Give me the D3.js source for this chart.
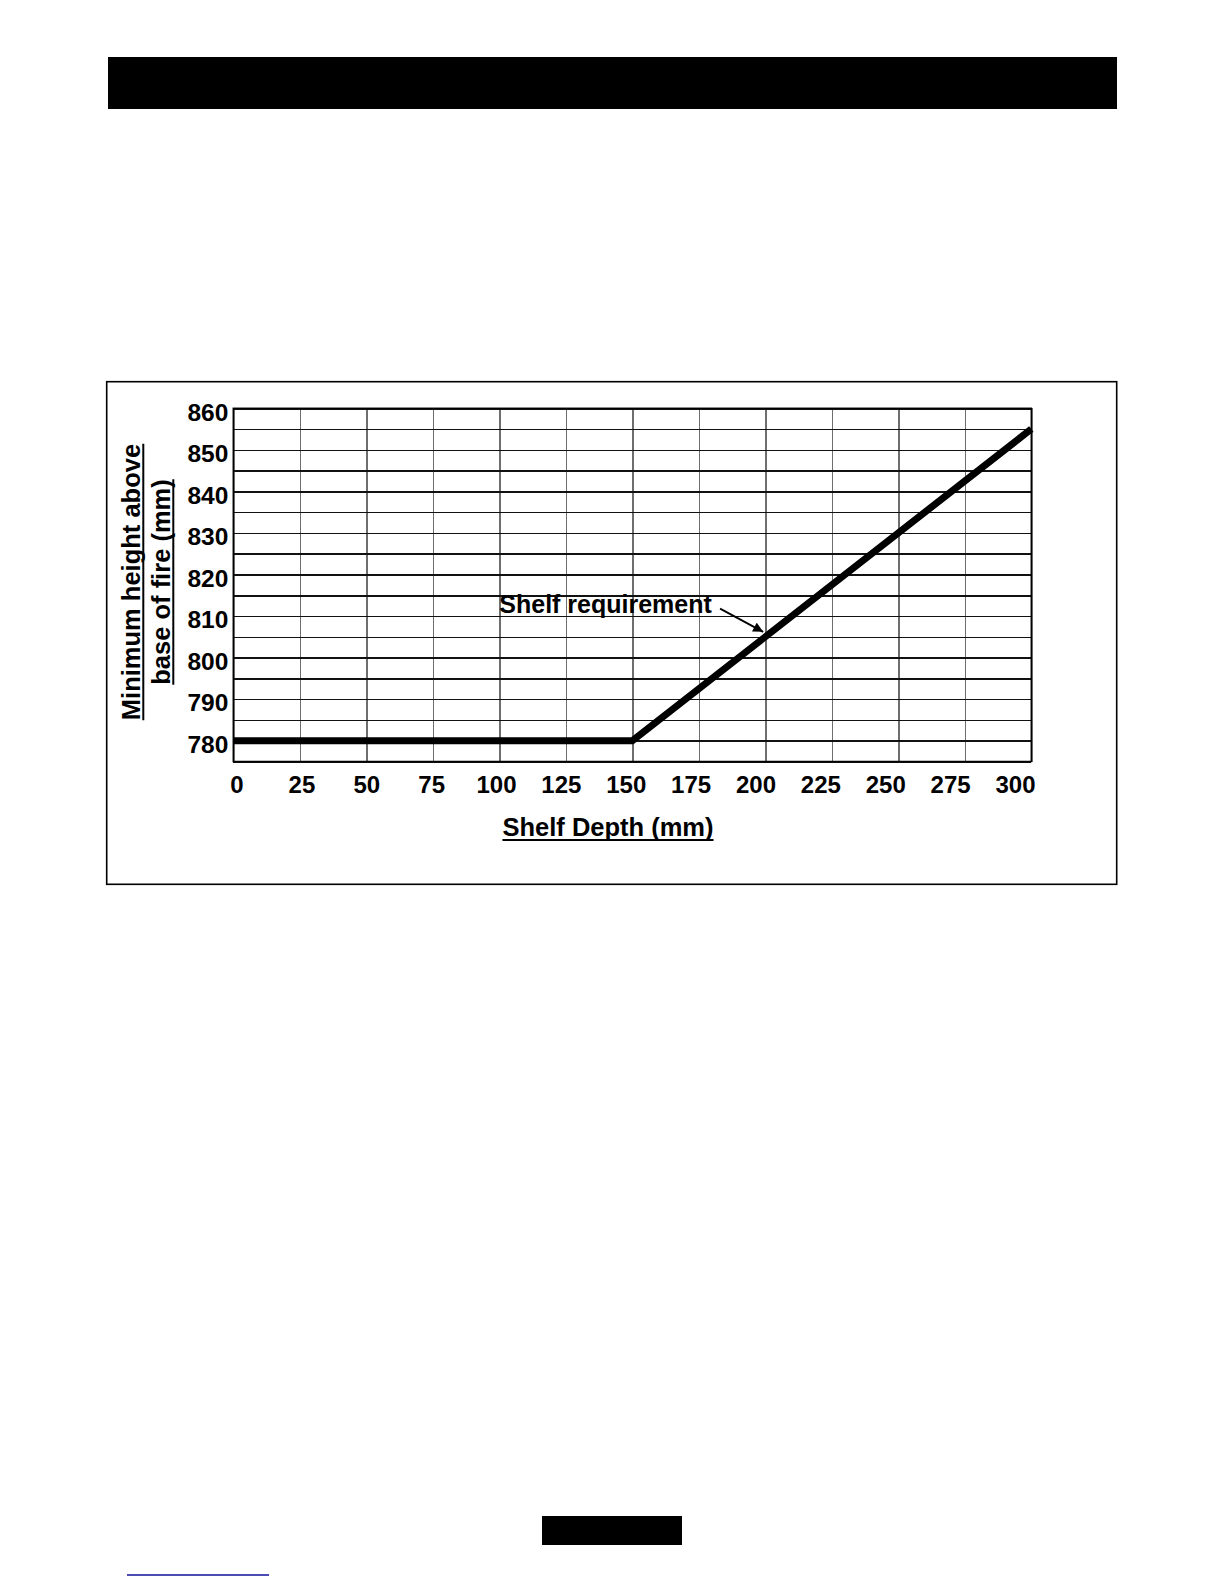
<!DOCTYPE html>
<html lang="en">
<head>
    <meta charset="UTF-8">
    <title>Shelf requirement</title>
    <style>
        body {
            margin: 0;
            background: #fff;
        }
        svg text {
            font-family: "Liberation Sans", Arial, sans-serif;
            font-weight: bold;
            fill: #000;
        }
        .grid line {
            shape-rendering: crispEdges;
        }
        .grid .domain {
            display: none;
        }
    </style>
</head>
<body>
<div id="chart"></div>
<script src="https://d3js.org/d3.v7.min.js"></script>
<script>
// Values
const depth = [0, 150, 300];          // shelf depth (mm)
const minHeight = [780, 780, 855];    // minimum height above base of fire (mm)

const xTickValues = [0, 25, 50, 75, 100, 125, 150, 175, 200, 225, 250, 275, 300];
const yTickValues = [780, 790, 800, 810, 820, 830, 840, 850, 860];
const yGridValues = [775, 780, 785, 790, 795, 800, 805, 810, 815, 820, 825, 830, 835, 840, 845, 850, 855, 860];

const xTitle = "Shelf Depth (mm)";
const yTitle = ["Minimum height above", "base of fire (mm)"];
const noteText = "Shelf requirement";
// annotation: text anchor and arrow start/end in data units
const notePos = [100, 810.7];
const arrowFrom = [183, 811.8];
const arrowTo = [199.2, 806.2];

const svg = d3.select("#chart")
    .append("svg")
    .attr("width", 1224)
    .attr("height", 1584);

// header bar and footer marks of the page
svg.append("rect")
    .attr("x", 108).attr("y", 57)
    .attr("width", 1009).attr("height", 52)
    .attr("fill", "#000");

svg.append("rect")
    .attr("x", 542).attr("y", 1516)
    .attr("width", 140).attr("height", 29)
    .attr("fill", "#000");

svg.append("line")
    .attr("x1", 127).attr("x2", 269)
    .attr("y1", 1575).attr("y2", 1575)
    .attr("stroke", "#10109a")
    .attr("stroke-width", 1.6);

// outer frame
svg.append("rect")
    .attr("x", 106.7).attr("y", 381.7)
    .attr("width", 1010).attr("height", 502.6)
    .attr("fill", "none")
    .attr("stroke", "#000")
    .attr("stroke-width", 1.6);

// scales
const x = d3.scaleLinear().domain([0, 300]).range([233.3, 1031.3]);
const y = d3.scaleLinear().domain([775, 860]).range([761.5, 408.3]);
// the tick labels under the x axis sit a little tighter than the grid
const xLabel = d3.scaleLinear().domain([0, 300]).range([236.5, 1015]);

const plotW = x(300) - x(0);
const plotH = y(775) - y(860);

// vertical grid
svg.append("g")
    .attr("class", "grid")
    .attr("transform", `translate(0,${y(775)})`)
    .call(d3.axisBottom(x).tickValues(xTickValues).tickSize(-plotH).tickFormat(""))
    .selectAll(".tick line")
    .attr("stroke", "#6e6e6e")
    .attr("stroke-width", 1.5);

// horizontal grid
svg.append("g")
    .attr("class", "grid")
    .attr("transform", `translate(${x(0)},0)`)
    .call(d3.axisLeft(y).tickValues(yGridValues).tickSize(-plotW).tickFormat(""))
    .selectAll(".tick line")
    .attr("stroke", "#111")
    .attr("stroke-width", 1.5);

// plot border
svg.append("rect")
    .attr("x", x(0)).attr("y", y(860))
    .attr("width", plotW).attr("height", plotH)
    .attr("fill", "none")
    .attr("stroke", "#000")
    .attr("stroke-width", 1.5);

// y tick labels
const yAxis = svg.append("g")
    .attr("transform", `translate(${x(0)},0)`)
    .call(d3.axisLeft(y).tickValues(yTickValues).tickSize(0).tickPadding(5));
yAxis.select(".domain").remove();
yAxis.selectAll("text")
    .attr("dy", 11.7)
    .style("font-size", "24.5px")
    .style("font-family", '"Liberation Sans", Arial, sans-serif')
    .style("font-weight", "bold")
    .attr("fill", "#000");

// x tick labels
const xAxis = svg.append("g")
    .attr("transform", `translate(0,${y(775)})`)
    .call(d3.axisBottom(xLabel).tickValues(xTickValues).tickSize(0));
xAxis.select(".domain").remove();
xAxis.selectAll("text")
    .attr("y", 31.5)
    .attr("dy", 0)
    .style("font-size", "24px")
    .style("font-family", '"Liberation Sans", Arial, sans-serif')
    .style("font-weight", "bold")
    .attr("fill", "#000");

// the requirement line
const line = d3.line()
    .x(d => x(d[0]))
    .y(d => y(d[1]));

svg.append("path")
    .datum(depth.map((d, i) => [d, minHeight[i]]))
    .attr("d", line)
    .attr("fill", "none")
    .attr("stroke", "#000")
    .attr("stroke-width", 7)
    .attr("stroke-linejoin", "miter");

// underlined text helper
function underlined(g, txt, size, off) {
    const t = g.append("text")
        .attr("text-anchor", "middle")
        .style("font-size", size + "px")
        .text(txt);
    const w = t.node().getComputedTextLength();
    g.append("line")
        .attr("x1", -w / 2).attr("x2", w / 2)
        .attr("y1", off).attr("y2", off)
        .attr("stroke", "#000")
        .attr("stroke-width", 2);
}

// x title
underlined(svg.append("g").attr("transform", "translate(608,836)"), xTitle, 25.5, 4);

// y title, two rotated lines
underlined(svg.append("g").attr("transform", "translate(139.5,582) rotate(-90)"), yTitle[0], 25.5, 3.8);
underlined(svg.append("g").attr("transform", "translate(169.5,582) rotate(-90)"), yTitle[1], 25.5, 3.8);

// annotation
svg.append("defs").append("marker")
    .attr("id", "arrow")
    .attr("viewBox", "0 0 10 10")
    .attr("refX", 10).attr("refY", 5)
    .attr("markerWidth", 12).attr("markerHeight", 10)
    .attr("markerUnits", "userSpaceOnUse")
    .attr("orient", "auto")
    .append("path")
    .attr("d", "M0,0L10,5L0,10Z")
    .attr("fill", "#000");

svg.append("text")
    .attr("x", x(notePos[0]))
    .attr("y", y(notePos[1]))
    .style("font-size", "25px")
    .text(noteText);

svg.append("line")
    .attr("x1", x(arrowFrom[0])).attr("y1", y(arrowFrom[1]))
    .attr("x2", x(arrowTo[0])).attr("y2", y(arrowTo[1]))
    .attr("stroke", "#000")
    .attr("stroke-width", 1.8)
    .attr("marker-end", "url(#arrow)");
</script>
</body>
</html>
